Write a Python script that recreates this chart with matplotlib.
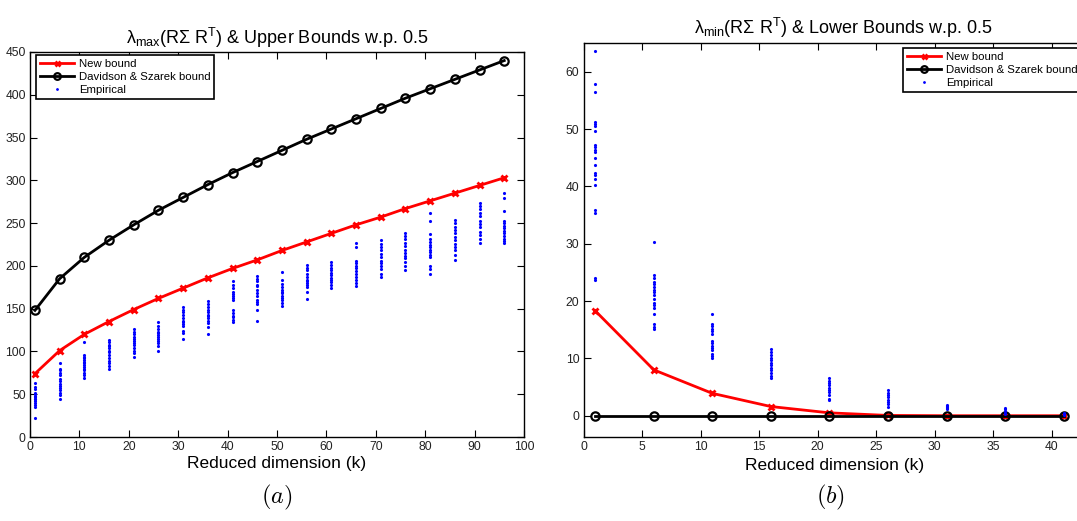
import matplotlib
matplotlib.use('Agg')
import matplotlib.pyplot as plt

plt.rcParams['font.family'] = ['Liberation Sans', 'DejaVu Sans']
plt.rcParams['mathtext.fontset'] = 'custom'
plt.rcParams['mathtext.rm'] = 'Liberation Sans'
plt.rcParams['mathtext.it'] = 'Liberation Sans:italic'

# ---- data: (a) upper bounds ----
k_up = [1, 6, 11, 16, 21, 26, 31, 36, 41, 46, 51, 56, 61, 66, 71, 76, 81, 86, 91, 96]
new_up = [74, 101, 120, 135, 149, 162, 174, 186, 197, 207, 218, 228, 238, 248,
          257, 267, 276, 285, 294, 303]
ds_up = [148, 185, 210, 230, 248, 265, 280, 295, 309, 322, 335, 348, 360, 372,
         384, 396, 407, 418, 429, 440]
emp_up = [
    [63, 59, 56, 52, 50, 48, 47, 45, 44, 42, 40, 37, 35, 22],
    [86, 80, 78, 75, 72, 68, 65, 62, 60, 57, 55, 52, 49, 45],
    [111, 96, 94, 92, 90, 88, 86, 84, 82, 80, 78, 75, 72, 69],
    [113, 111, 108, 106, 104, 101, 99, 96, 92, 89, 86, 83, 80],
    [126, 123, 120, 117, 114, 112, 110, 107, 104, 101, 98, 93],
    [134, 130, 126, 123, 121, 119, 117, 115, 112, 110, 106, 101],
    [152, 149, 146, 143, 139, 136, 134, 132, 130, 124, 121, 115],
    [159, 156, 152, 149, 146, 143, 141, 139, 136, 133, 128, 120],
    [182, 178, 174, 170, 167, 165, 162, 160, 148, 145, 142, 140, 137, 135],
    [188, 185, 182, 178, 176, 172, 168, 165, 160, 158, 155, 148, 136],
    [193, 184, 179, 175, 172, 170, 168, 165, 163, 160, 157, 153],
    [201, 198, 195, 190, 187, 184, 182, 180, 178, 175, 170, 161],
    [204, 201, 198, 195, 192, 189, 186, 184, 181, 178, 174],
    [227, 222, 206, 203, 200, 197, 194, 190, 187, 184, 180, 176],
    [230, 226, 222, 218, 214, 210, 206, 203, 200, 196, 191, 187],
    [238, 235, 231, 227, 223, 219, 215, 212, 209, 205, 200, 195],
    [262, 253, 237, 231, 228, 225, 222, 219, 216, 213, 210, 200, 196, 191],
    [254, 250, 246, 242, 238, 234, 230, 226, 222, 218, 213, 207],
    [273, 270, 266, 262, 258, 253, 249, 245, 240, 236, 232, 227],
    [285, 279, 264, 253, 250, 247, 244, 241, 238, 235, 232, 229, 227],
]

# ---- data: (b) lower bounds ----
k_lo = [1, 6, 11, 16, 21, 26, 31, 36, 41]
new_lo = [18.3, 8.0, 3.9, 1.6, 0.5, 0.05, 0.0, 0.0, 0.0]
ds_lo = [0, 0, 0, 0, 0, 0, 0, 0, 0]
emp_lo = [
    [63.6, 57.8, 56.4, 51.3, 50.9, 50.5, 49.6, 47.2, 46.8, 46.3, 46.0, 45.0,
     43.7, 42.3, 41.9, 41.2, 40.2, 35.8, 35.4, 24.0, 23.6],
    [30.3, 24.5, 24.0, 23.4, 22.9, 22.5, 22.0, 21.5, 21.0, 20.3, 19.7, 19.3,
     18.8, 17.8, 16.0, 15.5, 15.1],
    [17.8, 16.0, 15.6, 15.2, 14.8, 14.2, 13.0, 12.6, 12.2, 11.8, 11.4, 10.8, 10.4, 10.1],
    [11.7, 11.2, 10.6, 10.1, 9.7, 9.2, 8.8, 8.3, 7.9, 7.4, 7.0, 6.6],
    [6.6, 6.1, 5.7, 5.3, 4.9, 4.5, 4.1, 3.6, 3.0, 2.7],
    [4.4, 4.0, 3.6, 3.2, 2.8, 2.4, 2.0, 1.6],
    [1.9, 1.7, 1.5, 1.3, 1.2],
    [1.4, 1.1, 0.8, 0.5, 0.3],
    [0.5, 0.35, 0.2],
]

fig = plt.figure(figsize=(10.77, 5.21), dpi=100)
ax1 = fig.add_axes([30 / 1077, 84 / 521, 494 / 1077, 385 / 521])
# right panel runs past the figure edge, as in the original export
ax2 = fig.add_axes([583.5 / 1077, 84.3 / 521, 539 / 1077, 394 / 521])


def draw(ax, k, new, ds, emp):
    ax.plot(k, new, color='red', lw=2, marker='x', ms=4.5, mew=2, label='New bound')
    ax.plot(k, ds, color='black', lw=2, marker='o', ms=6, mew=1.6,
            mfc='none', label='Davidson & Szarek bound')
    xs, ys = [], []
    for kk, vals in zip(k, emp):
        xs += [kk] * len(vals)
        ys += vals
    ax.plot(xs, ys, ls='none', marker='.', ms=2.5, color='blue', label='Empirical')
    ax.tick_params(direction='in', length=5, top=True, right=True,
                   labelsize=8.7, colors='black', labelcolor='#222222', pad=3)
    for s in ax.spines.values():
        s.set_linewidth(1.0)
    ax.set_xlabel('Reduced dimension (k)', fontsize=12.5, labelpad=2)


def add_legend(ax, x, y):
    leg = ax.legend(loc='upper left', bbox_to_anchor=(x, y), borderaxespad=0,
                    fontsize=8.2, handlelength=3, handletextpad=0.4,
                    labelspacing=0.25, fancybox=False, edgecolor='black',
                    framealpha=1, borderpad=0.35, markerscale=0.8)
    leg.get_frame().set_linewidth(1.2)


draw(ax1, k_up, new_up, ds_up, emp_up)
ax1.set_xlim(0, 100)
ax1.set_ylim(0, 450)
ax1.set_xticks(range(0, 101, 10))
ax1.set_yticks(range(0, 451, 50))
ax1.set_title(r'λ$_{\mathrm{max}}$(RΣ R$^{\mathrm{T}}$) & Upper Bounds w.p. 0.5',
              fontsize=13, pad=6)
add_legend(ax1, 0.012, 0.992)

draw(ax2, k_lo, new_lo, ds_lo, emp_lo)
ax2.spines['right'].set_visible(False)
ax2.set_xlim(0, 539 / 11.71)
ax2.set_ylim(-3.66, 65.06)
ax2.set_xticks(range(0, 41, 5))
ax2.set_yticks(range(0, 61, 10))
ax2.xaxis.set_label_coords((835 - 583.5) / 539, -0.055)
ax2.set_title(r'λ$_{\mathrm{min}}$(RΣ R$^{\mathrm{T}}$) & Lower Bounds w.p. 0.5',
              fontsize=13, pad=6, x=(843 - 583.5) / 539)
add_legend(ax2, (903 - 583.5) / 539, 0.9865)

fig.text(277 / 1077, 1 - 497 / 521, r'$(a)$', ha='center', va='center',
         fontsize=17.5, math_fontfamily='cm')
fig.text(830 / 1077, 1 - 497 / 521, r'$(b)$', ha='center', va='center',
         fontsize=17.5, math_fontfamily='cm')

fig.savefig('out.png', dpi=100)
